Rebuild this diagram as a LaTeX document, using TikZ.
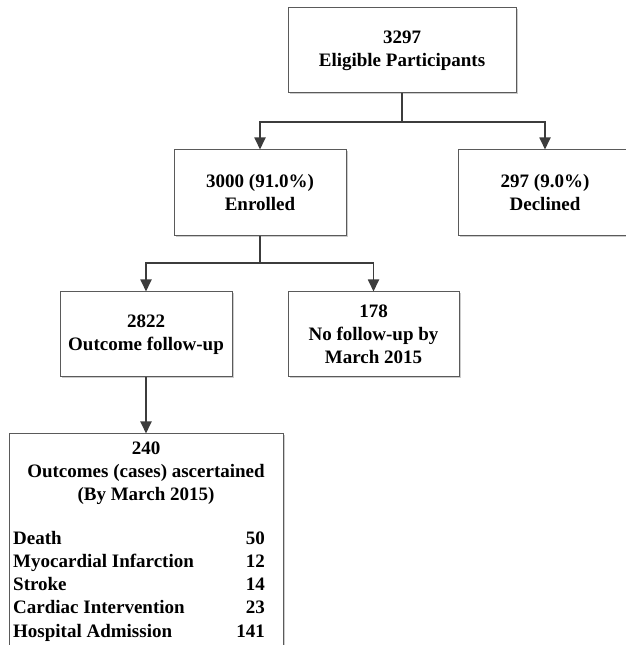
\documentclass[tikz,border=0pt]{standalone}
\usepackage{fontspec}
\setmainfont{Liberation Serif}
\usetikzlibrary{arrows.meta,shadows}
\definecolor{linegray}{HTML}{3C3C3C}
\definecolor{boxgray}{HTML}{5A5A5A}
\begin{document}
\begin{tikzpicture}[x=1pt, y=1pt,
    box/.style={rectangle, draw=boxgray, line width=1pt, fill=white,
        drop shadow={shadow xshift=1.5pt, shadow yshift=-1.5pt, fill=black!20, opacity=1},
        align=center, inner sep=0pt, font=\fontsize{19}{23}\selectfont\bfseries},
    txt/.style={inner sep=0pt, align=center, font=\fontsize{19}{23}\selectfont\bfseries},
    link/.style={-{Triangle[width=11pt,length=12pt]}, linegray, line width=1.8pt}]
    \useasboundingbox (0,0) rectangle (625,645);
    % boxes
    \node (eligible) at (402,594.5) [box, minimum width=228pt, minimum height=85pt] {3297\\Eligible Participants};
    \node (enrolled) at (260,452) [box, minimum width=172pt, minimum height=86pt] {3000 (91.0\%)\\Enrolled};
    \node (declined) at (545,452) [box, minimum width=174pt, minimum height=86pt] {297 (9.0\%)\\Declined};
    \node (followup) at (146,310.5) [box, minimum width=172pt, minimum height=85pt] {2822\\Outcome follow-up};
    \node (nofollow) at (373.5,310.5) [box, minimum width=171pt, minimum height=85pt] {178\\No follow-up by\\March 2015};
    \node (outcomes) at (146,103) [box, minimum width=274pt, minimum height=216pt] {};
    \node (cases) at (146,172) [txt] {240\\Outcomes (cases) ascertained\\(By March 2015)};
    \foreach \what/\count [count=\i] in {Death/50, Myocardial Infarction/12, Stroke/14, Cardiac Intervention/23, Hospital Admission/141}
    {
        \node (row\i) at (13,{123-23*\i}) [txt, anchor=base west] {\what};
        \node (num\i) at (265,{123-23*\i}) [txt, anchor=base east] {\count};
    }
    % connectors
    \coordinate (split1) at (402,523);
    \coordinate (split2) at (260,382);
    \draw[link] (eligible.south) -- (split1) -| (enrolled.north);
    \draw[link] (split1) -| (declined.north);
    \draw[link] (enrolled.south) -- (split2) -| (followup.north);
    \draw[link] (split2) -| (nofollow.north);
    \draw[link] (followup.south) -- (outcomes.north);
\end{tikzpicture}
\end{document}
